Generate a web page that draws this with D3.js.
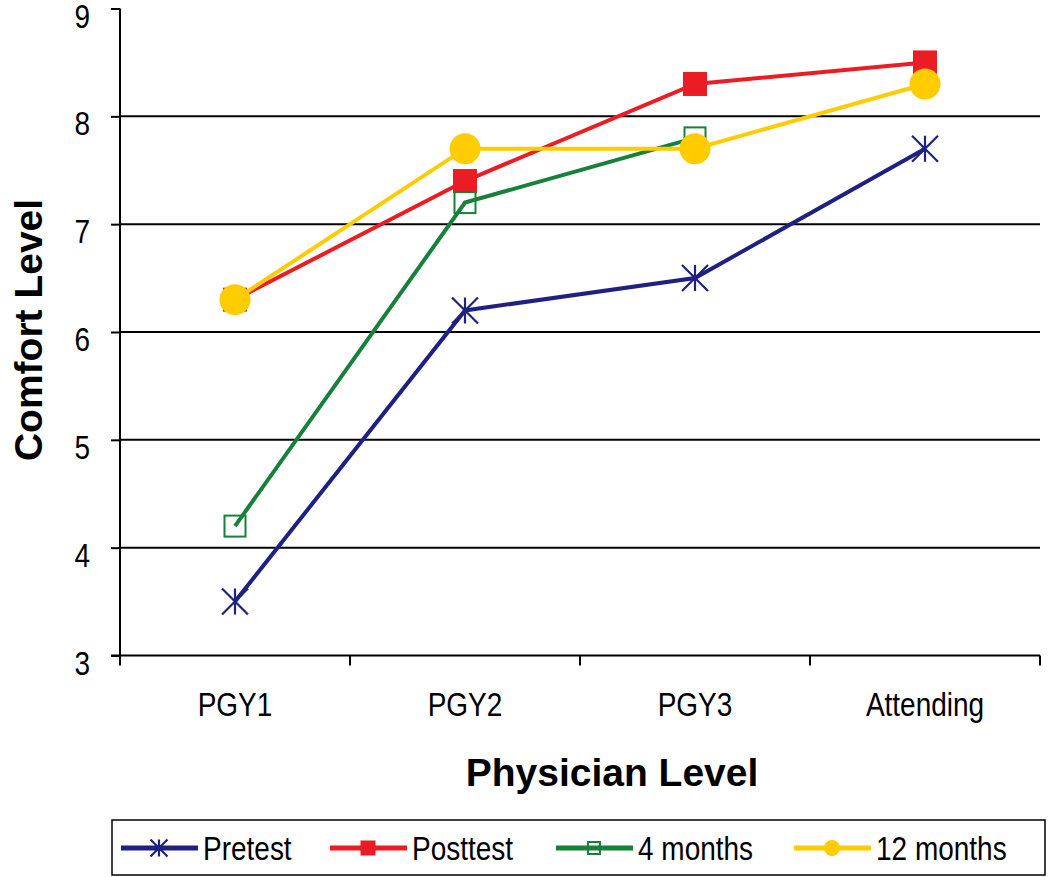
<!DOCTYPE html>
<html><head><meta charset="utf-8">
<script src="https://cdn.jsdelivr.net/npm/d3@7"></script>
<style>body{margin:0;background:#fff}svg{display:block;font-family:"Liberation Sans",Arial,sans-serif}</style>
</head><body><svg id="c" width="1050" height="877"></svg>
<script>
const categories = ["PGY1", "PGY2", "PGY3", "Attending"];
const yTicks = [3, 4, 5, 6, 7, 8, 9];
const seriesNames = ["Pretest", "Posttest", "4 months", "12 months"];
const pretest = [3.5, 6.2, 6.5, 7.7];
const posttest = [6.3, 7.4, 8.3, 8.5];
const months4 = [4.2, 7.2, 7.8, null];
const months12 = [6.3, 7.7, 7.7, 8.3];
const colors = ["#1f2180", "#ec1c24", "#17803a", "#ffcc00"];
const markers = ["star", "square", "openSquare", "circle"];

const series = seriesNames.map((n, i) => ({name: n, values: [pretest, posttest, months4, months12][i], color: colors[i], marker: markers[i]}));

const svg = d3.select("#c");
const L = 120, R = 1040, T = 8.5, B = 655.5;
const SY = 1.2; // vertical stretch of the reference lettering
const x = d3.scaleBand().domain(categories).range([L, R]);
const y = d3.scaleLinear().domain([3, 9]).range([B, T]);

function stretchedText(g, tx, ty, txt, size, anchor, weight) {
  return g.append("text")
    .attr("transform", `translate(${tx},${ty}) scale(1,${SY})`)
    .attr("text-anchor", anchor || "start")
    .attr("font-size", size)
    .attr("font-weight", weight || "normal")
    .attr("fill", "#000")
    .text(txt);
}

// gridlines
svg.append("g").selectAll("line").data(yTicks.filter(v => v > 3 && v < 9)).join("line")
  .attr("x1", L).attr("x2", R).attr("y1", d => y(d)).attr("y2", d => y(d))
  .attr("stroke", "#000").attr("stroke-width", 2);

// y axis
const ya = svg.append("g").attr("transform", `translate(${L},0)`)
  .call(d3.axisLeft(y).tickValues(yTicks).tickSize(9).tickFormat(""));
ya.select(".domain").attr("stroke", "#000").attr("stroke-width", 2).attr("d", `M0,${T}V${B}`);
ya.selectAll(".tick line").attr("stroke-width", 2);
const yl = svg.append("g");
yTicks.forEach(v => stretchedText(yl, 90, y(v) + 19, d3.format("d")(v), 28, "end"));

// x axis
const xa = svg.append("g").attr("transform", `translate(0,${B})`)
  .call(d3.axisBottom(x).tickSize(0).tickFormat(""));
xa.select(".domain").attr("stroke", "#000").attr("stroke-width", 2).attr("d", `M${L-9},0H${R}`);
const bounds = categories.map(c => x(c)).concat([x(categories[categories.length-1]) + x.bandwidth()]);
svg.append("g").selectAll("line").data(bounds).join("line")
  .attr("x1", d => d).attr("x2", d => d).attr("y1", B).attr("y2", B + 10)
  .attr("stroke", "#000").attr("stroke-width", 2);
const xl = svg.append("g");
categories.forEach(c => stretchedText(xl, x(c) + x.bandwidth()/2, B + 60.5, c, 28, "middle"));

// axis titles
svg.append("text").attr("x", 612).attr("y", 786).attr("text-anchor", "middle")
  .attr("font-size", 39).attr("font-weight", "bold").text("Physician Level");
svg.append("text").attr("transform", "translate(42,330) rotate(-90)").attr("text-anchor", "middle")
  .attr("font-size", 39).attr("font-weight", "bold").text("Comfort Level");

function drawMarker(g, type, cx, cy, color, s) {
  if (type === "star") {
    const r = s / 2;
    g.append("path").attr("d", `M${cx-r},${cy-r}L${cx+r},${cy+r}M${cx-r},${cy+r}L${cx+r},${cy-r}M${cx},${cy-r}V${cy+r}`)
      .attr("stroke", color).attr("stroke-width", 2.2).attr("fill", "none");
  } else if (type === "square") {
    g.append("rect").attr("x", cx - s/2).attr("y", cy - s/2).attr("width", s).attr("height", s).attr("fill", color);
  } else if (type === "openSquare") {
    g.append("rect").attr("x", cx - s/2).attr("y", cy - s/2).attr("width", s).attr("height", s)
      .attr("fill", "none").attr("stroke", color).attr("stroke-width", 2);
  } else {
    g.append("circle").attr("cx", cx).attr("cy", cy).attr("r", s/2).attr("fill", color);
  }
}
const sizes = {star: 26, square: 24, openSquare: 21, circle: 31};

const line = d3.line().defined(d => d.v != null).x(d => x(d.c) + x.bandwidth()/2).y(d => y(d.v));
series.forEach(s => {
  const g = svg.append("g");
  const pts = categories.map((c, i) => ({c, v: s.values[i]}));
  g.append("path").attr("d", line(pts)).attr("fill", "none").attr("stroke", s.color).attr("stroke-width", 4);
  pts.filter(p => p.v != null).forEach(p => drawMarker(g, s.marker, x(p.c) + x.bandwidth()/2, y(p.v), s.color, sizes[s.marker]));
});

// legend
svg.append("rect").attr("x", 112).attr("y", 820).attr("width", 933).attr("height", 55)
  .attr("fill", "#fff").attr("stroke", "#000").attr("stroke-width", 1.5);
const legX = [121, 330, 556, 794];
const legY = 848;
const legSizes = {star: 17, square: 15, openSquare: 12, circle: 16};
series.forEach((s, i) => {
  const g = svg.append("g");
  g.append("line").attr("x1", legX[i]).attr("x2", legX[i] + 77).attr("y1", legY).attr("y2", legY)
    .attr("stroke", s.color).attr("stroke-width", 5);
  drawMarker(g, s.marker, legX[i] + 38, legY, s.color, legSizes[s.marker]);
  stretchedText(g, legX[i] + 82, 860, s.name, 28, "start");
});
</script></body></html>
